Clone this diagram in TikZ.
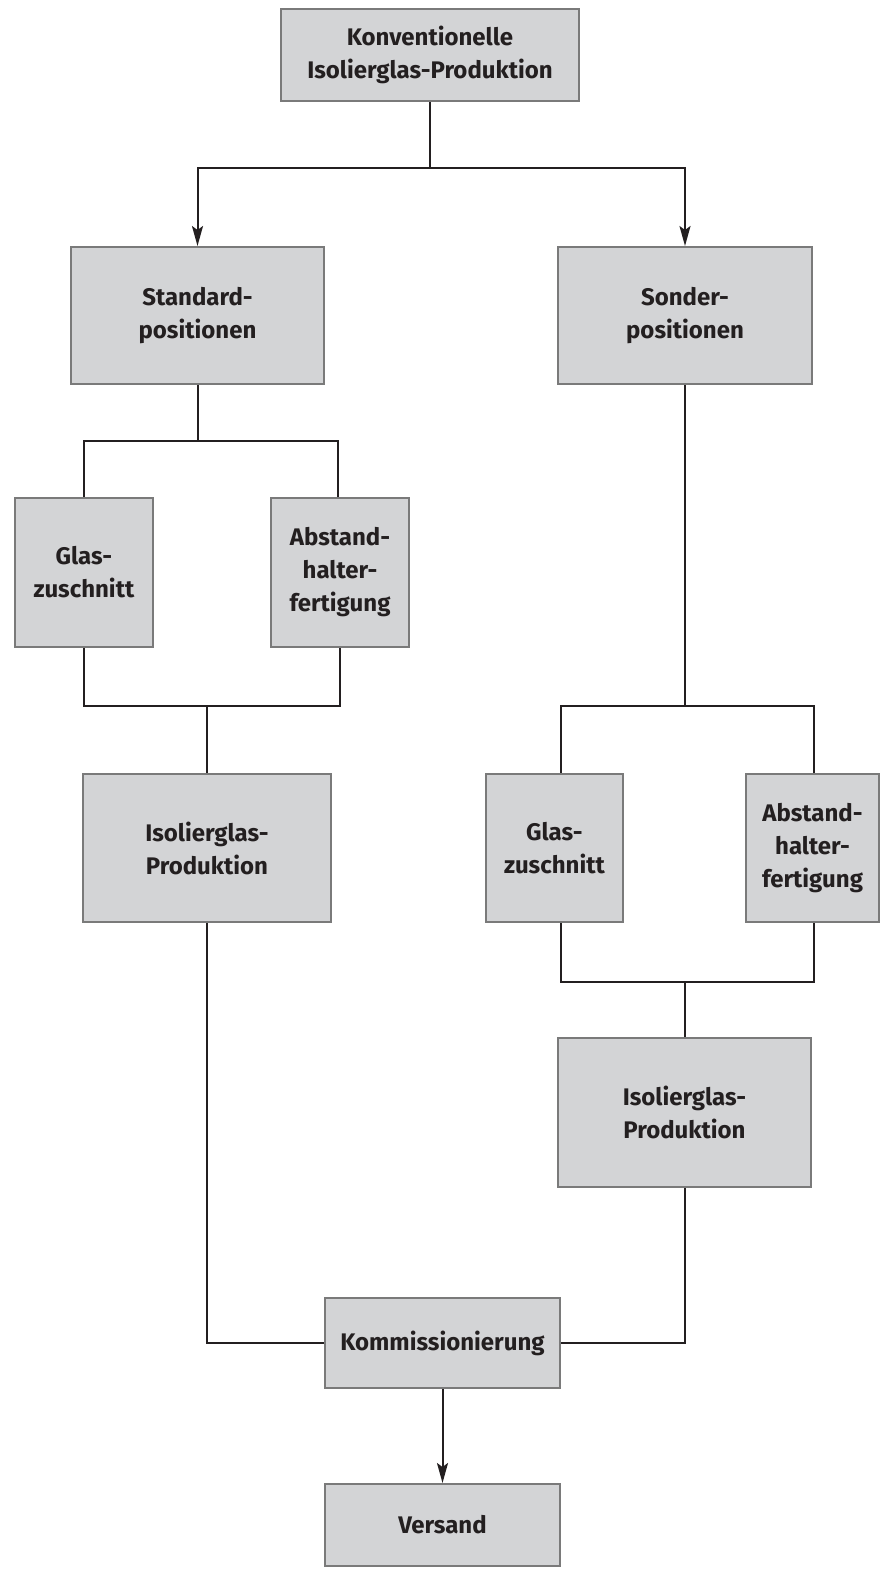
\documentclass[tikz,border=0pt]{standalone}
\usepackage{fontspec}
\setmainfont{Fira Sans}
\usetikzlibrary{arrows.meta}
\definecolor{boxfill}{HTML}{D3D4D6}
\definecolor{boxline}{HTML}{7A7A7A}
\definecolor{conn}{HTML}{231F20}
\begin{document}
\begin{tikzpicture}[x=1pt,y=-1pt,
  box/.style={draw=boxline,fill=boxfill,line width=2pt,inner sep=0pt,align=center,
    font=\fontsize{24}{33}\selectfont\bfseries,text=conn},
  con/.style={draw=conn,line width=2pt},
  arr/.style={con,-{Stealth[length=20pt,width=11pt,inset=4pt]}}]
\useasboundingbox (0,0) rectangle (879,1569);
\fill[white] (0,0) rectangle (879,1569);
\node[box,minimum width=298pt,minimum height=92pt] (top) at (430,55) {Konventionelle\\Isolierglas-Produktion};
\node[box,minimum width=253pt,minimum height=137pt] (std) at (197.5,315.5) {Standard-\\positionen};
\node[box,minimum width=254pt,minimum height=137pt] (son) at (685,315.5) {Sonder-\\positionen};
\node[box,minimum width=138pt,minimum height=149pt] (glL) at (84,572.5) {Glas-\\zuschnitt};
\node[box,minimum width=138pt,minimum height=149pt] (abL) at (340,572.5) {Abstand-\\halter-\\fertigung};
\node[box,minimum width=248pt,minimum height=148pt] (isoL) at (207,848) {Isolierglas-\\Produktion};
\node[box,minimum width=137pt,minimum height=148pt] (glR) at (554.5,848) {Glas-\\zuschnitt};
\node[box,minimum width=133pt,minimum height=148pt] (abR) at (812.5,848) {Abstand-\\halter-\\fertigung};
\node[box,minimum width=253pt,minimum height=149pt] (isoR) at (684.5,1112.5) {Isolierglas-\\Produktion};
\node[box,minimum width=235pt,minimum height=90pt] (kom) at (442.5,1343) {Kommissionierung};
\node[box,minimum width=235pt,minimum height=82pt] (ver) at (442.5,1525) {Versand};
% top split
\coordinate (t1) at (430,168);
\draw[con] (top.south) -- (t1);
\draw[arr] (t1) -| (std.north);
\draw[arr] (t1) -| (son.north);
% standard split
\coordinate (s1) at (197.5,441);
\draw[con] (std.south) -- (s1);
\draw[con] (s1) -| (glL.north);
\draw[con] (s1) -| ([xshift=-2pt]abL.north);
% left join
\coordinate (j1) at (207,706);
\draw[con] (glL.south) |- (j1);
\draw[con] (abL.south) |- (j1);
\draw[con] (j1) -- (isoL.north);
% sonder split
\coordinate (s2) at (685,706);
\draw[con] (son.south) -- (s2);
\draw[con] (s2) -| ([xshift=6pt]glR.north);
\draw[con] (s2) -| ([xshift=1.5pt]abR.north);
% right join
\coordinate (j2) at (685,982);
\draw[con] ([xshift=6pt]glR.south) |- (j2);
\draw[con] ([xshift=1.5pt]abR.south) |- (j2);
\draw[con] (j2) -- ([xshift=0.5pt]isoR.north);
% to Kommissionierung
\draw[con] (isoL.south) |- (kom.west);
\draw[con] ([xshift=0.5pt]isoR.south) |- (kom.east);
\draw[arr] (kom.south) -- (ver.north);
\end{tikzpicture}
\end{document}
